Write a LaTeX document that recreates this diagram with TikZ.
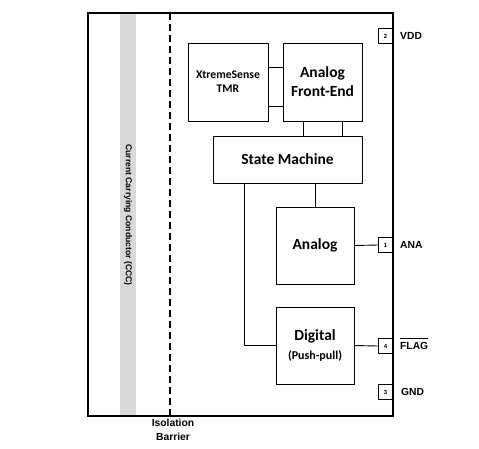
\documentclass[tikz,border=0pt]{standalone}
\usepackage{fontspec}
\setmainfont{Carlito}
\newfontfamily\arialfont{Liberation Sans}
\usetikzlibrary{positioning}
\tikzset{%
   blk/.style={draw, line width=0.9pt, inner sep=0pt, outer sep=0pt, align=center,
     font=\bfseries\fontsize{15.5}{19}\selectfont},
   pin/.style={draw, line width=0.9pt, inner sep=0pt, outer sep=0pt, minimum size=15pt,
     font=\arialfont\bfseries\fontsize{6}{6}\selectfont},
   lbl/.style={inner sep=0pt, font=\arialfont\bfseries\fontsize{10.3}{14}\selectfont},
   wire/.style={line width=0.9pt},
}

\begin{document}
\begin{tikzpicture}[x=1pt, y=-1pt]
      \useasboundingbox (0,0) rectangle (479,448);
      \fill[gray!30] (120,13) rectangle (136,416);
      \node[rotate=-90, font=\arialfont\bfseries\fontsize{8.6}{9}\selectfont] (ccc) at (128,215) {Current Carrying Conductor (CCC)};
      \draw[line width=2pt, dash pattern=on 7pt off 4pt] (170,13) -- (170,416);
      \draw[line width=1.2pt] (88,13) rectangle (393,416);
      \node[lbl, align=center] (iso) at (173,430) {Isolation\\Barrier};
      \node[blk, minimum width=80pt, minimum height=78pt, font=\bfseries\fontsize{11.7}{14}\selectfont] (xs) at (228,82) {XtremeSense\\TMR};
      \node[blk, minimum width=79pt, minimum height=78pt, right=15pt of xs] (afe) {Analog\\Front-End};
      \node[blk, minimum width=149pt, minimum height=47pt] (sm) at (287.5,159.5) {State Machine};
      \node[blk, minimum width=78pt, minimum height=77pt] (ana) at (315,245.5) {Analog};
      \node[blk, minimum width=78pt, minimum height=77pt, below=23pt of ana] (dig) {Digital\\{\fontsize{12}{13}\selectfont(Push-pull)}};
      \node[pin] (p2) at (385.5,36) {2};
      \node[pin] (p1) at (385.5,245) {1};
      \node[pin] (p4) at (385.5,346) {4};
      \node[pin] (p3) at (385.5,392) {3};
      \node[lbl, right=7pt of p2] (vdd) {VDD};
      \node[lbl, right=7pt of p1] (anapin) {ANA};
      \node[lbl, anchor=base west] (flag) at ([xshift=7pt, yshift=-3.5pt]p4.east) {$\overline{\hbox{FLAG}\rule{0pt}{10pt}}$};
      \node[lbl, right=8pt of p3] (gnd) {GND};
      \draw[wire] ([yshift=15pt]xs.east) -- ([yshift=15pt]afe.west);
      \draw[wire] ([yshift=-24pt]xs.east) -- ([yshift=-24pt]afe.west);
      \draw[wire] ([xshift=-19.5pt]afe.south) -- ([xshift=-19.5pt]afe.south |- sm.north);
      \draw[wire] ([xshift=19.5pt]afe.south) -- ([xshift=19.5pt]afe.south |- sm.north);
      \draw[wire] (ana.north |- sm.south) -- (ana.north);
      \draw[wire] ([xshift=31pt]sm.south west) |- (dig.west);
      \draw[wire] (ana.east) -- (p1.west);
      \draw[wire] (dig.east) -- (p4.west);
   \end{tikzpicture}
\end{document}
